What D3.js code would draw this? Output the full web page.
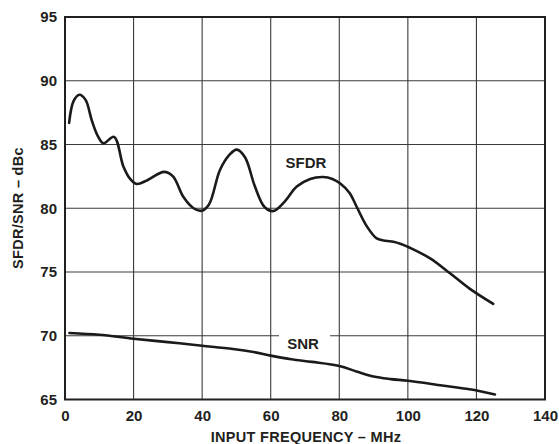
<!DOCTYPE html>
<html>
<head>
<meta charset="utf-8">
<script src="https://cdn.jsdelivr.net/npm/d3@7"></script>
<style>
  html, body { margin: 0; padding: 0; background: #fff; }
  svg text { font-family: "Liberation Sans", Arial, Helvetica, sans-serif; font-weight: bold; fill: #231f20; }
</style>
</head>
<body>
<svg id="chart" width="559" height="444"></svg>
<script>
const xTicks = [0, 20, 40, 60, 80, 100, 120, 140];
const yTicks = [65, 70, 75, 80, 85, 90, 95];

const sfdrFreq = [1.2, 2.5, 4.2, 6, 7.8, 9.5, 11.2, 14.3, 17, 19, 20.9, 24, 28.9, 31.5, 34.5, 37.5, 39.8, 42, 45.2, 48, 50.1, 52.5, 55.4, 58.2, 60.8, 64, 67.6, 71.5, 75.3, 78, 80.2, 83, 85.1, 88, 90.9, 93.5, 95.8, 98, 100.6, 106.5, 112.3, 118, 124.9];
const sfdrVal  = [86.7, 88.4, 88.9, 88.5, 86.9, 85.7, 85.1, 85.6, 83.3, 82.3, 81.9, 82.2, 82.85, 82.5, 80.9, 80.0, 79.8, 80.3, 83.0, 84.2, 84.6, 84.0, 81.7, 80.1, 79.78, 80.5, 81.7, 82.3, 82.45, 82.3, 81.96, 81.2, 80.1, 78.6, 77.64, 77.45, 77.38, 77.2, 76.9, 76.07, 74.9, 73.7, 72.5];

const snrFreq = [1.3, 10, 20, 30, 40, 49, 55, 60, 66, 72, 80, 85, 90, 95, 100, 110, 118, 125.4];
const snrVal  = [70.22, 70.08, 69.77, 69.5, 69.22, 68.96, 68.72, 68.44, 68.15, 67.95, 67.63, 67.2, 66.8, 66.6, 66.47, 66.1, 65.8, 65.4];

const svg = d3.select("#chart");
const mLeft = 65, mRight = 545, mTop = 17, mBottom = 399.5;

const x = d3.scaleLinear().domain([0, 140]).range([mLeft, mRight]);
const y = d3.scaleLinear().domain([65, 95]).range([mBottom, mTop]);

const grid = svg.append("g");
grid.selectAll("line.v").data(xTicks.slice(1, -1)).enter().append("line")
  .attr("x1", d => x(d)).attr("x2", d => x(d))
  .attr("y1", mTop).attr("y2", mBottom)
  .attr("stroke", "#3a3a3a").attr("stroke-width", 1.1);
grid.selectAll("line.h").data(yTicks.slice(1, -1)).enter().append("line")
  .attr("x1", mLeft).attr("x2", mRight)
  .attr("y1", d => y(d)).attr("y2", d => y(d))
  .attr("stroke", "#3a3a3a").attr("stroke-width", 1.1);

// gap in the 70 gridline behind SNR label
svg.append("rect").attr("x", 279).attr("y", y(70) - 4).attr("width", 51).attr("height", 8).attr("fill", "#fff");

// frame
svg.append("rect").attr("x", mLeft).attr("y", mTop).attr("width", mRight - mLeft).attr("height", mBottom - mTop)
  .attr("fill", "none").attr("stroke", "#231f20").attr("stroke-width", 2);

const xAxis = d3.axisBottom(x).tickValues(xTicks).tickSize(0).tickPadding(0);
const gx = svg.append("g").attr("transform", `translate(0,${mBottom})`).call(xAxis);
gx.select(".domain").remove();
gx.selectAll("text").style("font-size", "15px").attr("y", 21.5).attr("dy", null);

const yAxis = d3.axisLeft(y).tickValues(yTicks).tickSize(0).tickPadding(8);
const gy = svg.append("g").attr("transform", `translate(${mLeft},0)`).call(yAxis);
gy.select(".domain").remove();
gy.selectAll("text").style("font-size", "15px");

const line = d3.line().x(d => x(d[0])).y(d => y(d[1])).curve(d3.curveCatmullRom.alpha(0.5));
const sfdr = sfdrFreq.map((f, i) => [f, sfdrVal[i]]);
const snr = snrFreq.map((f, i) => [f, snrVal[i]]);

svg.append("path").datum(sfdr).attr("d", line).attr("fill", "none")
  .attr("stroke", "#1a1a1a").attr("stroke-width", 2.6).attr("stroke-linecap", "round");
svg.append("path").datum(snr).attr("d", line).attr("fill", "none")
  .attr("stroke", "#1a1a1a").attr("stroke-width", 2.6).attr("stroke-linecap", "round");

svg.append("text").attr("x", 306).attr("y", 168).attr("text-anchor", "middle").style("font-size", "15px").text("SFDR");
svg.append("text").attr("x", 303).attr("y", 348.5).attr("text-anchor", "middle").style("font-size", "15px").text("SNR");

svg.append("text").attr("x", 306).attr("y", 441.5).attr("text-anchor", "middle")
  .style("font-size", "14.5px").style("letter-spacing", "0.3px").text("INPUT FREQUENCY – MHz");
svg.append("text").attr("transform", `translate(22.5,208) rotate(-90)`)
  .attr("text-anchor", "middle").style("font-size", "14.5px").style("letter-spacing", "0.3px").text("SFDR/SNR – dBc");
</script>
</body>
</html>
